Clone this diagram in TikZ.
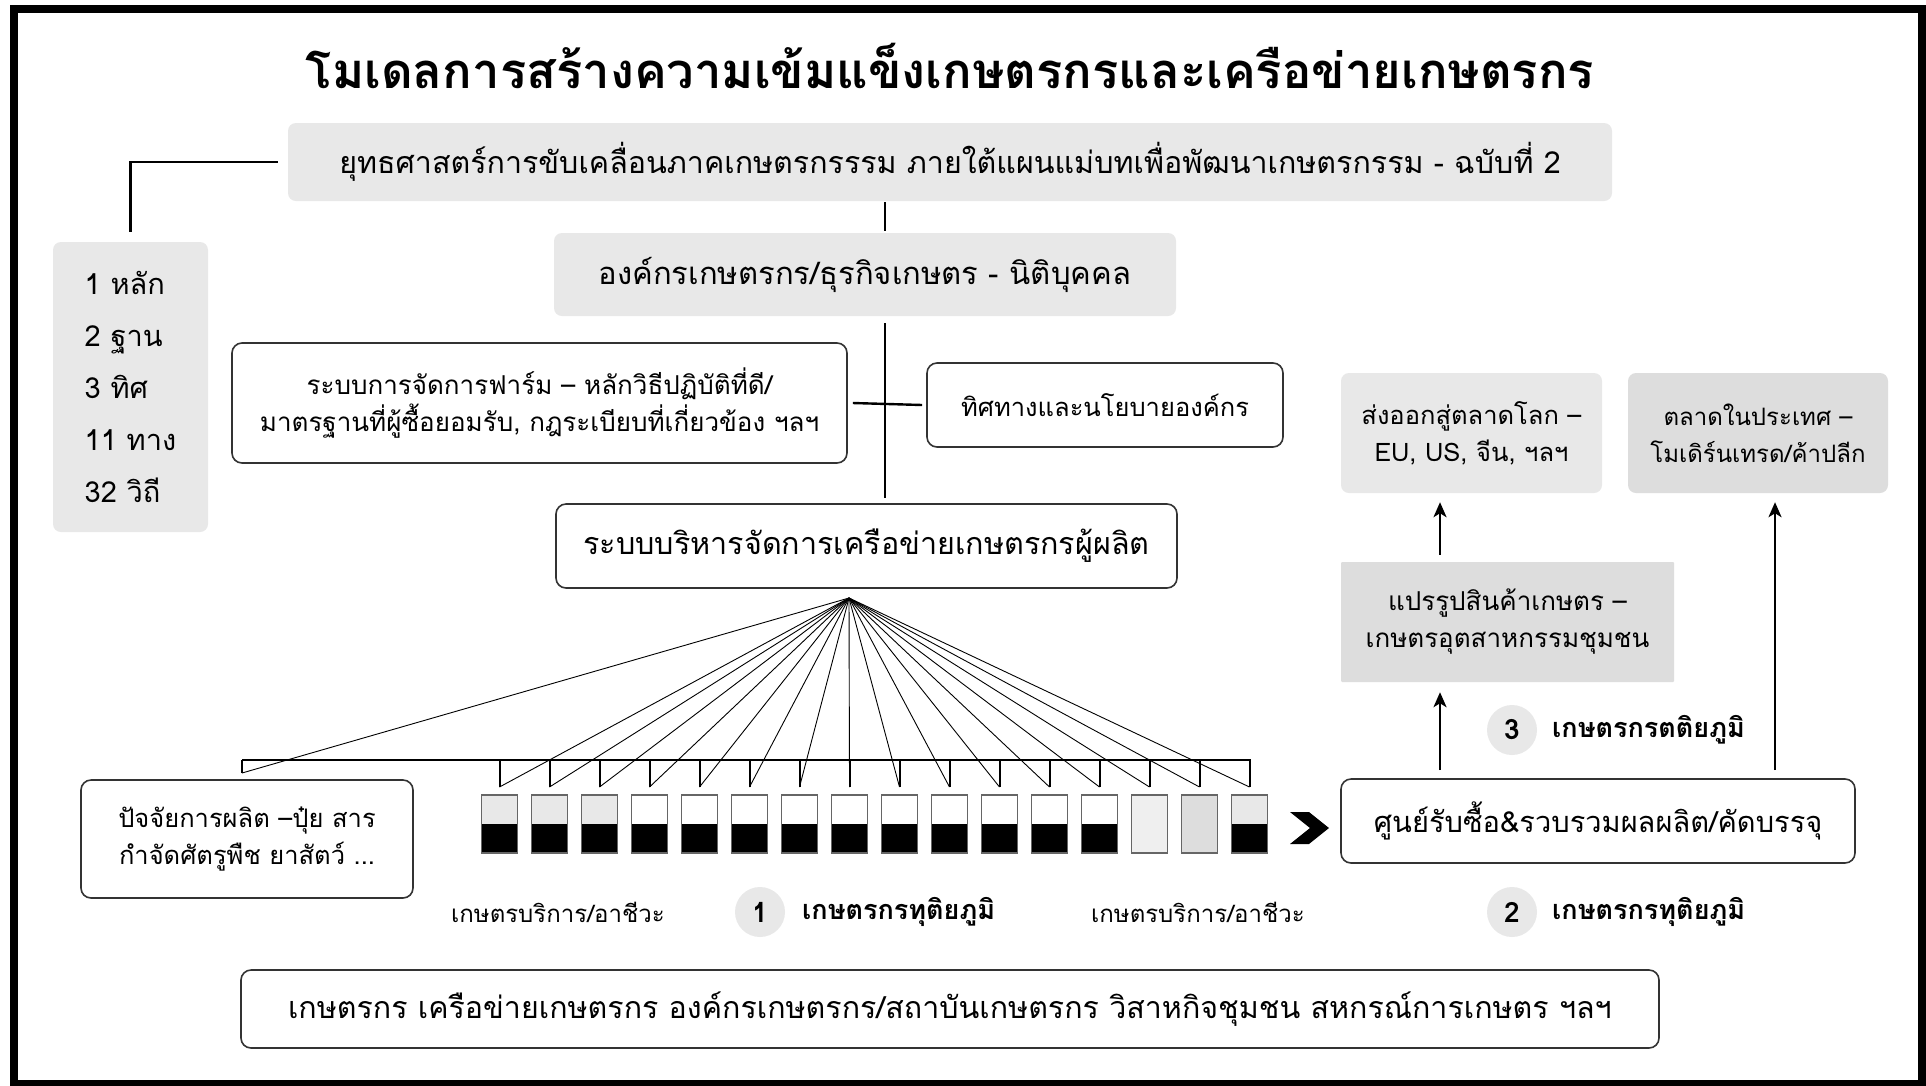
\documentclass[tikz,border=0pt]{standalone}
\usepackage{fontspec}
\setmainfont{Loma}[Script=Thai]
\usetikzlibrary{arrows.meta}
\definecolor{lgray}{HTML}{E8E8E8}
\definecolor{mgray}{HTML}{DDDDDD}
\definecolor{bgray}{HTML}{333333}
\definecolor{barline}{HTML}{666666}
\newcommand{\fs}[1]{\fontsize{#1}{37}\selectfont}
\begin{document}
\begin{tikzpicture}[x=1pt,y=-1pt,
  graybox/.style={fill=lgray, rounded corners=8pt, inner sep=0pt, align=center, font=\fs{27}},
  midbox/.style={graybox, fill=mgray},
  whitebox/.style={draw=bgray, line width=1.6pt, fill=white, rounded corners=10pt, inner sep=0pt, align=center, font=\fs{27}},
  conn/.style={line width=2.4pt, black},
  arr/.style={line width=2.4pt, black, -{Stealth[length=15pt,width=13pt,inset=4pt]}},
  fanline/.style={line width=0.9pt, black},
  tickline/.style={line width=2pt, black},
  barbase/.style={draw=barline, line width=1.2pt, minimum width=36.6pt, minimum height=58pt, inner sep=0pt, outer sep=0pt},
  blackbottom/.style={path picture={\fill[black] (path picture bounding box.west) rectangle (path picture bounding box.south east);}},
  barA/.style={barbase, fill=lgray, blackbottom},
  barB/.style={barbase, fill=white, blackbottom},
  barC/.style={barbase, fill=lgray!70},
  barD/.style={barbase, fill=mgray},
  numcirc/.style={circle, fill=lgray, minimum size=50pt, inner sep=0pt, font=\fontsize{28}{30}\selectfont\bfseries},
  lbl/.style={inner sep=0pt, font=\fontsize{24}{30}\selectfont},
  blbl/.style={inner sep=0pt, anchor=west, font=\fontsize{27}{30}\selectfont\bfseries},
]
\useasboundingbox (0,0) rectangle (1926,1085);
\fill[white] (0,0) rectangle (1926,1085);
\draw[line width=8pt] (13.5,8.5) rectangle (1922,1084);

% title
\node[font=\fontsize{49}{60}\selectfont\bfseries, inner sep=0pt] (title) at (950,66) {โมเดลการสร้างความเข้มแข็งเกษตรกรและเครือข่ายเกษตรกร};

% top boxes
\node[graybox, font=\fs{30.4}, minimum width=1324pt, minimum height=78pt] (box1) at (950,162) {ยุทธศาสตร์การขับเคลื่อนภาคเกษตรกรรรม ภายใต้แผนแม่บทเพื่อพัฒนาเกษตรกรรม - ฉบับที่ 2};
\node[graybox, minimum width=155pt, minimum height=290pt, align=left, font=\fontsize{29}{52}\selectfont] (nums) at (130.5,387) {1 หลัก\\2 ฐาน\\3 ทิศ\\11 ทาง\\32 วิถี};
\node[graybox, font=\fs{31}, minimum width=622pt, minimum height=83pt] (box2) at (865,274.5) {องค์กรเกษตรกร/ธุรกิจเกษตร - นิติบุคคล};
\node[whitebox, font=\fs{26}, minimum width=615pt, minimum height=120pt] (farm) at (539.5,403) {ระบบการจัดการฟาร์ม – หลักวิธีปฏิบัติที่ดี/\\มาตรฐานที่ผู้ซื้อยอมรับ, กฎระเบียบที่เกี่ยวข้อง ฯลฯ};
\node[whitebox, font=\fs{25.5}, minimum width=356pt, minimum height=84pt] (policy) at (1105,405) {ทิศทางและนโยบายองค์กร};
\node[whitebox, font=\fs{30.5}, minimum width=621pt, minimum height=84pt] (box3) at (866.5,546) {ระบบบริหารจัดการเครือข่ายเกษตรกรผู้ผลิต};

% connectors top
\coordinate (spine) at (885,0);
\draw[conn] ([xshift=-10pt]box1.west) -| ([yshift=10pt]nums.north);
\draw[conn] ([yshift=-1pt]box1.south -| spine) -- ([yshift=2pt]box2.north -| spine);
\draw[conn] ([yshift=-7pt]box2.south -| spine) -- ([yshift=5pt]box3.north -| spine);
\draw[conn] ([xshift=5pt]farm.east) -- ([xshift=-4pt]policy.west);

% fan
\coordinate (apex) at (849,598);
\coordinate (barL) at (242,760);
\coordinate (barR) at (1251,760);
\coordinate (t0) at (242,773);
\draw[line width=2.6pt] (barL) -- (barR);
\draw[tickline] (barL) -- (t0);
\draw[fanline] (apex) -- (t0);
\foreach \i/\s in {1/barA,2/barA,3/barA,4/barB,5/barB,6/barB,7/barB,8/barB,9/barB,10/barB,11/barB,12/barB,13/barB,14/barC,15/barD,16/barA} {
  \pgfmathsetmacro\bx{449.5+50*\i}
  \coordinate (t\i) at (\bx,787);
  \draw[tickline] (\bx,760) -- (t\i);
  \draw[fanline] (apex) -- (t\i);
  \node[\s] (bar\i) at (\bx,824) {};
}

% chevron
\fill (1290,812) -- (1309,812) -- (1329,828) -- (1309,844) -- (1290,844) -- (1310,828) -- cycle;

% left input box
\node[whitebox, font=\fs{25.5}, minimum width=332pt, minimum height=118pt] (input) at (247,839) {ปัจจัยการผลิต –ปุ๋ย สาร\\กำจัดศัตรูพืช ยาสัตว์ ...};

% right side
\node[whitebox, font=\fs{29}, minimum width=514pt, minimum height=84pt] (center) at (1598,821) {ศูนย์รับซื้อ\&รวบรวมผลผลิต/คัดบรรจุ};
\node[graybox, font=\fs{26}, minimum width=333pt, minimum height=120pt, rounded corners=1pt, fill=mgray] (proc) at (1507.5,622) {แปรรูปสินค้าเกษตร –\\เกษตรอุตสาหกรรมชุมชน};
\node[graybox, font=\fs{25.5}, minimum width=261pt, minimum height=120pt] (export) at (1471.5,433) {ส่งออกสู่ตลาดโลก –\\EU, US, จีน, ฯลฯ};
\node[midbox, font=\fs{24}, minimum width=260pt, minimum height=120pt] (domestic) at (1758,433) {ตลาดในประเทศ –\\โมเดิร์นเทรด/ค้าปลีก};
\coordinate (ax1) at (1440,0);
\coordinate (ax2) at (1775,0);
\draw[arr] ([yshift=8pt]center.north -| ax1) -- ([yshift=-10pt]proc.south -| ax1);
\draw[arr] ([yshift=7pt]proc.north -| ax1) -- ([yshift=-9pt]export.south -| ax1);
\draw[arr] ([yshift=8pt]center.north -| ax2) -- ([yshift=-9pt]domestic.south -| ax2);

% tier labels
\node[numcirc] (c3) at (1512,730) {3};
\node[blbl] (l3) at (1552,730) {เกษตรกรตติยภูมิ};
\node[numcirc] (c2) at (1512,912) {2};
\node[blbl] (l2) at (1552,912) {เกษตรกรทุติยภูมิ};
\node[numcirc] (c1) at (760,912) {1};
\node[blbl] (l1) at (802,912) {เกษตรกรทุติยภูมิ};
\node[lbl] (svc1) at (558,912) {เกษตรบริการ/อาชีวะ};
\node[lbl] (svc2) at (1198,912) {เกษตรบริการ/อาชีวะ};

% bottom box
\node[whitebox, font=\fs{30.4}, minimum width=1418pt, minimum height=78pt] (bottom) at (950,1009) {เกษตรกร เครือข่ายเกษตรกร องค์กรเกษตรกร/สถาบันเกษตรกร วิสาหกิจชุมชน สหกรณ์การเกษตร ฯลฯ};
\end{tikzpicture}
\end{document}
